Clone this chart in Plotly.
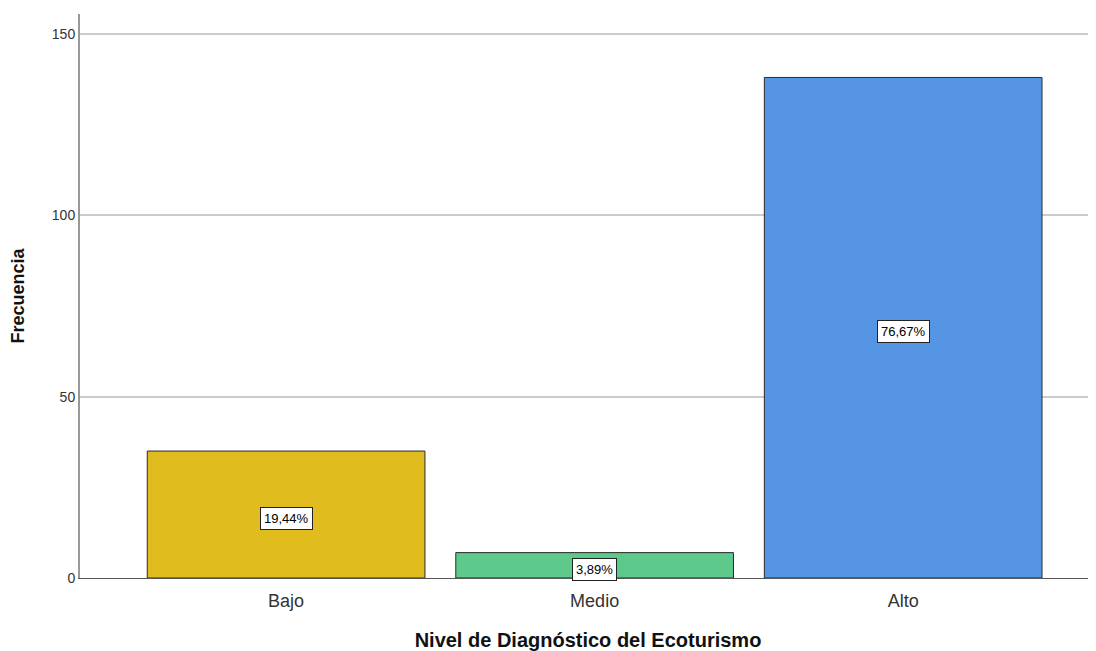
"""Bar chart of ecotourism diagnosis levels (SPSS style)."""

import plotly.graph_objects as go

categories = ["Bajo", "Medio", "Alto"]
frequencies = [35, 7, 138]
percent_labels = ["19,44%", "3,89%", "76,67%"]
bar_colors = ["#E1BC1F", "#5DC98A", "#5595E4"]
y_ticks = [0, 50, 100, 150]


def build_figure():
    """Build the bar chart with percentage labels inside each bar."""
    fig = go.Figure()

    fig.add_bar(
        x=categories,
        y=frequencies,
        width=0.9,
        marker={"color": bar_colors, "line": {"color": "#2b2b2b", "width": 1}},
        showlegend=False,
        hoverinfo="x+y",
    )

    for cat, val, label in zip(categories, frequencies, percent_labels):
        fig.add_annotation(
            x=cat,
            y=val / 2,
            yshift=-4,
            text=label,
            showarrow=False,
            font={"family": "Liberation Sans, Arial", "size": 13, "color": "black"},
            bgcolor="white",
            bordercolor="#222222",
            borderwidth=1,
            borderpad=3,
        )

    # the page body adds an 8px margin, so the figure is kept 8px smaller
    fig.update_layout(
        width=1088,
        height=643,
        margin={"l": 72, "r": 0, "t": 6, "b": 73},
        plot_bgcolor="white",
        paper_bgcolor="white",
        font={"family": "Liberation Sans, Arial", "color": "#222222"},
        bargap=0.1,
    )

    fig.update_xaxes(
        range=[-0.668, 2.625],
        showline=True,
        linecolor="#555555",
        linewidth=1,
        ticks="",
        ticklabelstandoff=6,
        showgrid=False,
        tickfont={"size": 18, "color": "#333333"},
        title={
            "text": "<b>Nivel de Diagnóstico del Ecoturismo</b>",
            "font": {"size": 20, "color": "#111111"},
            "standoff": 24,
        },
    )
    fig.update_yaxes(
        range=[0, 155.5],
        tickvals=y_ticks,
        showline=True,
        linecolor="#999999",
        linewidth=2,
        ticks="",
        showgrid=True,
        gridcolor="#CCCCCC",
        gridwidth=1.5,
        zeroline=False,
        tickfont={"size": 14, "color": "#333333"},
        title={
            "text": "<b>Frecuencia</b>",
            "font": {"size": 18, "color": "#111111"},
            "standoff": 24,
        },
    )
    return fig


fig = build_figure()
fig.write_html("out.html")
